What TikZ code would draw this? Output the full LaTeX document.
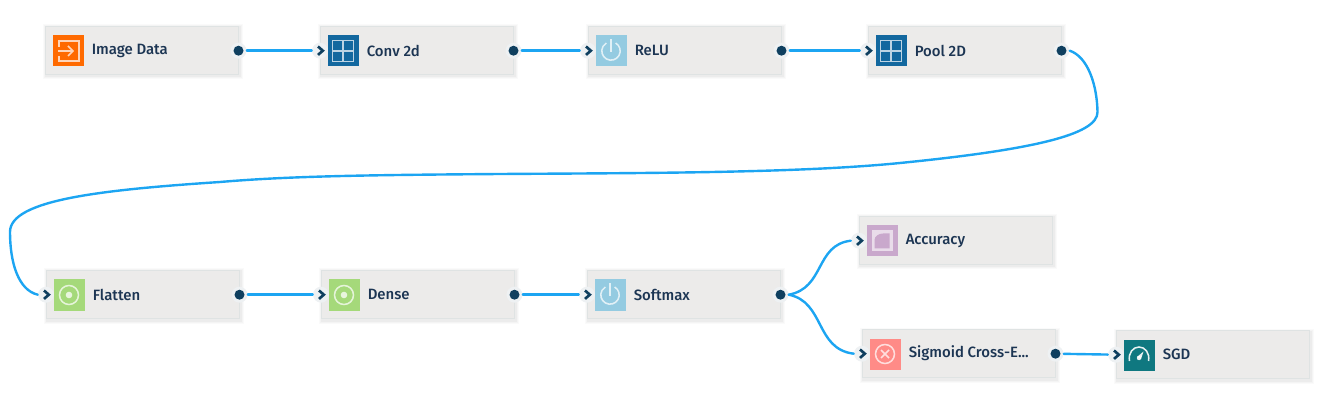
\documentclass[tikz,border=0pt]{standalone}
\usepackage{fontspec}
\setmainfont{Fira Sans Medium}
\definecolor{boxfill}{HTML}{ECEBEA}
\definecolor{boxline}{HTML}{DFE3E3}
\definecolor{halo}{HTML}{EEF1F3}
\definecolor{portc}{HTML}{0F3F5F}
\definecolor{wire}{HTML}{1CA5F2}
\definecolor{labelc}{HTML}{1C3553}
\definecolor{iorange}{HTML}{FF6A00}
\definecolor{iblue}{HTML}{13689F}
\definecolor{isky}{HTML}{94CBE1}
\definecolor{igreen}{HTML}{A5D97A}
\definecolor{ipurple}{HTML}{C9A8CC}
\definecolor{isalmon}{HTML}{FF8B87}
\definecolor{iteal}{HTML}{0F7880}
\tikzset{
  x=0.75pt,y=-0.75pt,
  blockbox/.style={draw=boxline,fill=boxfill,line width=0.75pt,minimum width=145pt,minimum height=36.25pt,inner sep=0pt},
  blocklabel/.style={anchor=west,inner sep=0pt,text=labelc,font=\fontsize{11.2}{13}\selectfont},
  outport/.style={circle,fill=halo,minimum size=12pt,inner sep=0pt},
  inport/.style={circle,fill=halo,minimum size=12pt,inner sep=0pt},
  conn/.style={draw=wire,line width=1.8pt,line cap=round},
  glyph/.style={draw=white,draw opacity=0.72,line width=1.15pt,fill=none},
  pics/imgicon/.style={code={
    \fill[iorange] (-15.5,-15.5) rectangle (15.5,15.5);
    \draw[glyph] (-9,-4) -- (-9,-10) -- (11,-10) -- (11,10) -- (-9,10) -- (-9,5);
    \draw[glyph] (-10,0) -- (5,0) (0,-5) -- (5,0) -- (0,5);
  }},
  pics/gridicon/.style={code={
    \fill[iblue] (-15.5,-15.5) rectangle (15.5,15.5);
    \draw[glyph] (-10.5,-10.5) rectangle (10.5,10.5) (0,-10.5) -- (0,10.5) (-10.5,0) -- (10.5,0);
  }},
  pics/powericon/.style={code={
    \fill[isky] (-15.5,-15.5) rectangle (15.5,15.5);
    \draw[glyph] (4.6,-8) arc[start angle=-60,end angle=240,radius=9.2];
    \draw[glyph] (0,-12) -- (0,1);
  }},
  pics/targeticon/.style={code={
    \fill[igreen] (-15.5,-15.5) rectangle (15.5,15.5);
    \draw[glyph] (0,0) circle[radius=9.5];
    \fill[white,opacity=0.75] (0,0) circle[radius=3.3];
  }},
  pics/accicon/.style={code={
    \fill[ipurple] (-15.5,-15.5) rectangle (15.5,15.5);
    \fill[white,opacity=0.6] (-10.5,-10.5) rectangle (10.5,10.5);
    \fill[ipurple] (-7.5,7.5) -- (-7.5,-1) .. controls (-7.5,-5) and (-3,-7.5) .. (1,-7.5) -- (7.5,-7.5) -- (7.5,7.5) -- cycle;
  }},
  pics/crossicon/.style={code={
    \fill[isalmon] (-15.5,-15.5) rectangle (15.5,15.5);
    \draw[glyph] (0,0) circle[radius=9.5];
    \draw[glyph] (-4,-4) -- (4,4) (-4,4) -- (4,-4);
  }},
  pics/gaugeicon/.style={code={
    \fill[iteal] (-15.5,-15.5) rectangle (15.5,15.5);
    \draw[glyph,draw opacity=0.9] (-9.5,6) .. controls (-11,-2) and (-6,-8) .. (0,-8) .. controls (6,-8) and (11,-2) .. (9.5,6);
    \fill[white,opacity=0.9] (-2,2) -- (4.5,-3.5) -- (2,4) -- cycle;
    \fill[white,opacity=0.9] (0,3) circle[radius=2.2];
  }},
}
% name, left, top, label
\newcommand{\blockbase}[4]{
  \foreach \s/\o in {3/0.02,2/0.025,1/0.03}{
    \fill[black,opacity=\o] ({#2-\s+0.5},{#3-\s+1.5}) rectangle ({#2+194+\s+0.5},{#3+49+\s+1.5});
  }
  \node[blockbox] (#1) at ({#2+97},{#3+24.5}) {};
  \node[blocklabel] (#1-label) at ({#2+46.5},{#3+24.5}) {#4};
}
\newcommand{\inputport}[3]{
  \node[inport] (#1-in) at ({#2},{#3+24.7}) {};
  \draw[portc,line width=2pt] ({#2-2},{#3+20.5}) -- ({#2+2.8},{#3+24.7}) -- ({#2-2},{#3+28.9});
}
\newcommand{\outputport}[3]{
  \node[outport] (#1-out) at ({#2+193.5},{#3+24.7}) {};
  \fill[portc] (#1-out.center) circle[radius=5];
}
\newcommand{\tileicon}[3]{\pic at ({#1+23},{#2+25}) {#3};}
\begin{document}
\begin{tikzpicture}
\useasboundingbox (0,0) rectangle (1333,409);
\blockbase{image}{45}{26}{Image Data}
\outputport{image}{45}{26}
\tileicon{45}{26}{imgicon}

\blockbase{conv}{320}{26}{Conv 2d}
\inputport{conv}{320}{26}\outputport{conv}{320}{26}
\tileicon{320}{26}{gridicon}

\blockbase{relu}{588}{26}{ReLU}
\inputport{relu}{588}{26}\outputport{relu}{588}{26}
\tileicon{588}{26}{powericon}

\blockbase{pool}{868}{26}{Pool 2D}
\inputport{pool}{868}{26}\outputport{pool}{868}{26}
\tileicon{868}{26}{gridicon}

\blockbase{flatten}{46}{270}{Flatten}
\inputport{flatten}{46}{270}\outputport{flatten}{46}{270}
\tileicon{46}{270}{targeticon}

\blockbase{dense}{321}{270}{Dense}
\inputport{dense}{321}{270}\outputport{dense}{321}{270}
\tileicon{321}{270}{targeticon}

\blockbase{softmax}{587}{270}{Softmax}
\inputport{softmax}{587}{270}\outputport{softmax}{587}{270}
\tileicon{587}{270}{powericon}

\blockbase{accuracy}{859}{216}{Accuracy}
\inputport{accuracy}{859}{216}
\tileicon{859}{216}{accicon}

\blockbase{sigmoid}{862}{329}{Sigmoid Cross-E...}
\inputport{sigmoid}{862}{329}\outputport{sigmoid}{862}{329}
\tileicon{862}{329}{crossicon}

\blockbase{sgd}{1116}{330}{SGD}
\inputport{sgd}{1116}{330}
\tileicon{1116}{330}{gaugeicon}

\draw[conn] (image-out) -- (conv-in);
\draw[conn] (conv-out) -- (relu-in);
\draw[conn] (relu-out) -- (pool-in);
\draw[conn] (pool-out.east) .. controls (1088,57) and (1097,85) .. (1097.5,112)
  .. controls (1098,135) and (1030,150) .. (900,163)
  .. controls (800,173) and (650,173) .. (500,174)
  .. controls (370,175) and (290,176) .. (220,182)
  .. controls (100,190) and (10,200) .. (10,232)
  .. controls (10,262) and (18,290) .. (flatten-in.west);
\draw[conn] (flatten-out) -- (dense-in);
\draw[conn] (dense-out) -- (softmax-in);
\draw[conn] (softmax-out.east) .. controls (825,288) and (815,245) .. (accuracy-in.west);
\draw[conn] (softmax-out.east) .. controls (825,302) and (815,349) .. (sigmoid-in.west);
\draw[conn] (sigmoid-out) -- (sgd-in);
\end{tikzpicture}
\end{document}
